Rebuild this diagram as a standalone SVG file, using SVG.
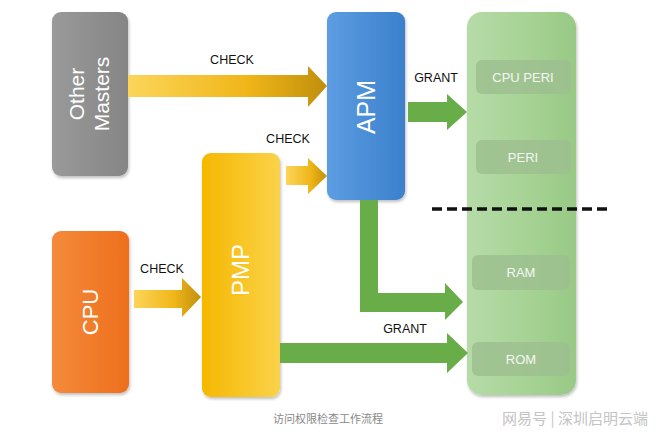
<svg xmlns="http://www.w3.org/2000/svg" width="660" height="437" viewBox="0 0 660 437">
<defs>
<linearGradient id="gGray" x1="0" y1="0" x2="1" y2="0"><stop offset="0" stop-color="#9a9a9a"/><stop offset="1" stop-color="#858585"/></linearGradient>
<linearGradient id="gOrange" x1="0" y1="0" x2="1" y2="0"><stop offset="0" stop-color="#f48a3c"/><stop offset="1" stop-color="#ee6f1c"/></linearGradient>
<linearGradient id="gPmp" x1="0" y1="0" x2="1" y2="0"><stop offset="0" stop-color="#f6b800"/><stop offset="1" stop-color="#fad24a"/></linearGradient>
<linearGradient id="gApm" x1="0" y1="0" x2="1" y2="0"><stop offset="0" stop-color="#5d9de2"/><stop offset="1" stop-color="#3b80cc"/></linearGradient>
<linearGradient id="gMem" x1="0" y1="0" x2="1" y2="0"><stop offset="0" stop-color="#b6dba8"/><stop offset="0.6" stop-color="#a5d293"/><stop offset="1" stop-color="#98c985"/></linearGradient>
<linearGradient id="gYel" x1="0" y1="0" x2="1" y2="0"><stop offset="0" stop-color="#fbd55a"/><stop offset="0.6" stop-color="#f0b619"/><stop offset="1" stop-color="#c08f0c"/></linearGradient>
<filter id="sh" x="-10%" y="-5%" width="130%" height="115%"><feDropShadow dx="1" dy="2" stdDeviation="1.5" flood-color="#000" flood-opacity="0.25"/></filter>
</defs>
<style>
.lbl{font-family:"Liberation Sans",Arial,sans-serif;font-size:12.5px;fill:#111;text-anchor:middle}
.nt{font-family:"Liberation Sans",Arial,sans-serif;fill:#fff;text-anchor:middle}
.mt{font-family:"Liberation Sans",Arial,sans-serif;font-size:13px;fill:#f4f8f2;text-anchor:middle}
.mb{fill:#9dbf8f;opacity:0.85}
.grn{fill:#68ad47}
.cap{font-family:"Noto Sans CJK SC",sans-serif;fill:#888;text-anchor:middle}
</style>
<rect width="660" height="437" fill="#fff"/>

<g id="memory">
<rect x="467" y="12" width="109" height="383" rx="15" fill="url(#gMem)" filter="url(#sh)"/>
<rect class="mb" x="476" y="60" width="95" height="34" rx="6"/>
<text class="mt" x="523" y="82">CPU PERI</text>
<rect class="mb" x="476" y="140" width="95" height="34" rx="6"/>
<text class="mt" x="523" y="162">PERI</text>
<rect class="mb" x="472" y="255" width="98" height="35" rx="6"/>
<text class="mt" x="521" y="277">RAM</text>
<rect class="mb" x="472" y="342" width="98" height="34" rx="6"/>
<text class="mt" x="521" y="364">ROM</text>
</g>

<g id="other-masters">
<rect x="52" y="12" width="76" height="164" rx="9" fill="url(#gGray)" filter="url(#sh)"/>
<text class="nt" font-size="21" transform="translate(90,94) rotate(-90)"><tspan x="0" y="-6">Other</tspan><tspan x="0" y="19">Masters</tspan></text>
</g>

<g id="cpu">
<rect x="52" y="231" width="77" height="162" rx="9" fill="url(#gOrange)" filter="url(#sh)"/>
<text class="nt" font-size="22" transform="translate(90,312) rotate(-90)" y="8">CPU</text>
</g>

<g id="pmp">
<rect x="202" y="153" width="78" height="244" rx="9" fill="url(#gPmp)" filter="url(#sh)"/>
<text class="nt" font-size="24" transform="translate(240,270) rotate(-90)" y="8.5">PMP</text>
</g>

<g id="apm">
<rect x="327" y="12" width="78" height="188" rx="9" fill="url(#gApm)" filter="url(#sh)"/>
<text class="nt" font-size="25" transform="translate(366,107) rotate(-90)" y="9">APM</text>
</g>

<g id="connectors">
<polygon fill="url(#gYel)" points="128,75 308,75 308,66 327,86 308,107 308,97 128,97"/>
<text class="lbl" x="232" y="64">CHECK</text>
<polygon fill="url(#gYel)" points="286,166 308,166 308,158 327,176 308,194 308,185 286,185"/>
<text class="lbl" x="288" y="143">CHECK</text>
<polygon fill="url(#gYel)" points="134,290 182,290 182,278 201,297 182,317 182,308 134,308"/>
<text class="lbl" x="162" y="273">CHECK</text>
<polygon class="grn" points="408,102 447,102 447,94 467,112 447,130 447,122 408,122"/>
<text class="lbl" x="436" y="82">GRANT</text>
<polygon class="grn" points="360,200 378,200 378,293 445,293 445,283 463,302 445,320 445,312 360,312"/>
<polygon class="grn" points="280,343 447,343 447,333 468,353 447,373 447,363 280,363"/>
<text class="lbl" x="405" y="333">GRANT</text>
<line x1="432" y1="209" x2="610" y2="209" stroke="#111" stroke-width="3.5" stroke-dasharray="10,5"/>
</g>

<text class="cap" x="328" y="423" font-size="11">访问权限检查工作流程</text>
<text class="cap" x="575" y="424" font-size="15" fill="#c4c4c4" style="fill:#c4c4c4">网易号 | 深圳启明云端</text>
</svg>
